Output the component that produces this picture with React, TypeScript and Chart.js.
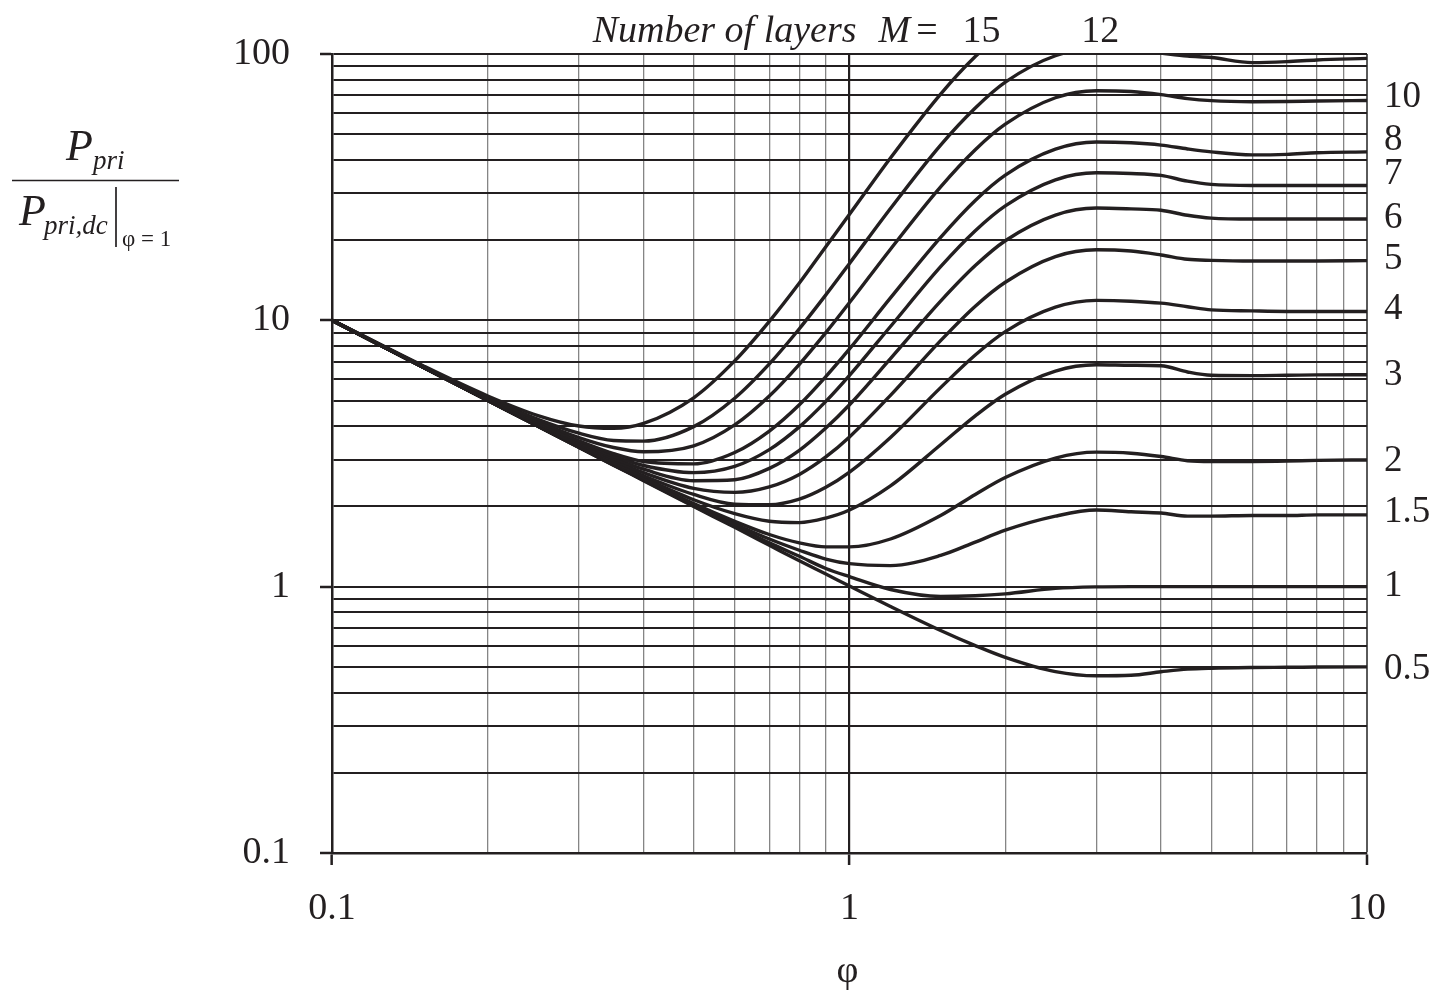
import { useEffect, useRef } from 'react';
import { Chart, registerables } from 'chart.js';

Chart.register(...registerables);

// phi sample points (x axis)
const PHI = [0.1, 0.15, 0.2, 0.25, 0.3, 0.35, 0.4, 0.5, 0.6, 0.7, 0.8, 0.9, 1, 1.2, 1.5, 1.75, 2, 2.5, 3, 3.5, 4, 4.5, 5, 6, 7, 8, 10];

// normalized primary loss, one array per number of layers M
const P_M15 = [10.03, 6.75, 5.2, 4.39, 4.01, 3.93, 4.1, 5.12, 7.04, 9.91, 13.8, 18.9, 25.0, 40.7, 70.7, 97.8, 122];
const P_M12 = [10.01, 6.72, 5.13, 4.25, 3.77, 3.54, 3.52, 3.99, 5.1, 6.86, 9.3, 12.46, 16.36, 26.3, 45.5, 62.7, 78.4, 98.5, 104.7, 104.0, 100.8, 98.2, 97.0, 92.8, 93.6, 95.0, 96.3];
const P_M10 = [10.01, 6.7, 5.09, 4.17, 3.63, 3.33, 3.21, 3.38, 4.05, 5.2, 6.84, 8.99, 11.66, 18.5, 31.7, 43.7, 54.5, 68.5, 72.8, 72.3, 70.4, 68.0, 66.8, 66.2, 66.3, 66.6, 66.9];
const P_M8 = [10.01, 6.69, 5.06, 4.11, 3.53, 3.16, 2.95, 2.89, 3.19, 3.84, 4.82, 6.15, 7.81, 12.14, 20.5, 28.2, 35.1, 43.9, 46.7, 46.4, 45.5, 44.0, 42.9, 41.8, 42.0, 42.6, 42.9];
const P_M7 = [10.0, 6.68, 5.04, 4.09, 3.48, 3.09, 2.85, 2.68, 2.83, 3.27, 3.98, 4.96, 6.21, 9.48, 15.9, 21.7, 26.9, 33.7, 35.8, 35.6, 35.0, 33.3, 32.4, 32.1, 32.1, 32.1, 32.1];
const P_M6 = [10.0, 6.68, 5.03, 4.06, 3.44, 3.03, 2.76, 2.5, 2.52, 2.78, 3.25, 3.94, 4.82, 7.18, 11.8, 16.05, 19.9, 24.85, 26.4, 26.2, 25.9, 24.8, 24.2, 24.0, 24.0, 24.0, 24.0];
const P_M5 = [10.0, 6.67, 5.02, 4.04, 3.41, 2.98, 2.68, 2.34, 2.26, 2.37, 2.64, 3.07, 3.65, 5.23, 8.39, 11.3, 13.9, 17.35, 18.4, 18.2, 17.6, 16.95, 16.8, 16.7, 16.7, 16.7, 16.75];
const P_M4 = [10.0, 6.67, 5.01, 4.03, 3.38, 2.93, 2.61, 2.22, 2.04, 2.03, 2.13, 2.36, 2.69, 3.63, 5.59, 7.41, 9.07, 11.2, 11.88, 11.8, 11.6, 11.25, 10.95, 10.85, 10.8, 10.8, 10.8];
const P_M3 = [10.0, 6.67, 5.01, 4.02, 3.36, 2.9, 2.56, 2.12, 1.88, 1.76, 1.74, 1.81, 1.94, 2.39, 3.41, 4.38, 5.28, 6.45, 6.81, 6.78, 6.75, 6.4, 6.22, 6.2, 6.22, 6.24, 6.25];
const P_M2 = [10.0, 6.67, 5.0, 4.01, 3.35, 2.88, 2.53, 2.05, 1.76, 1.57, 1.46, 1.41, 1.41, 1.51, 1.85, 2.22, 2.57, 3.04, 3.2, 3.17, 3.08, 2.97, 2.95, 2.95, 2.96, 2.98, 2.99];
const P_M1_5 = [10.0, 6.67, 5.0, 4.0, 3.34, 2.87, 2.52, 2.03, 1.72, 1.51, 1.37, 1.27, 1.22, 1.2, 1.31, 1.47, 1.63, 1.84, 1.94, 1.91, 1.89, 1.84, 1.84, 1.85, 1.85, 1.86, 1.86];
const P_M1 = [10.0, 6.67, 5.0, 4.0, 3.34, 2.86, 2.51, 2.01, 1.69, 1.46, 1.3, 1.17, 1.09, 0.976, 0.919, 0.925, 0.94, 0.985, 0.998, 1.0, 1.0, 1.0, 1.0, 1.0, 1.0, 1.0, 1.0];
const P_M0_5 = [10.0, 6.67, 5.0, 4.0, 3.33, 2.86, 2.5, 2.0, 1.67, 1.43, 1.25, 1.115, 1.006, 0.843, 0.685, 0.601, 0.543, 0.48, 0.463, 0.465, 0.479, 0.49, 0.494, 0.497, 0.498, 0.499, 0.5];

const M_NAMES = ['15', '12', '10', '8', '7', '6', '5', '4', '3', '2', '1.5', '1', '0.5'];
const M_VALUES = [P_M15, P_M12, P_M10, P_M8, P_M7, P_M6, P_M5, P_M4, P_M3, P_M2, P_M1_5, P_M1, P_M0_5];

// axis ticks
const X_TICKS = [0.1, 0.2, 0.3, 0.4, 0.5, 0.6, 0.7, 0.8, 0.9, 1, 2, 3, 4, 5, 6, 7, 8, 9, 10];
const X_LABELED = [0.1, 1, 10];
const Y_TICKS = [0.1, 0.2, 0.3, 0.4, 0.5, 0.6, 0.7, 0.8, 0.9, 1, 2, 3, 4, 5, 6, 7, 8, 9, 10, 20, 30, 40, 50, 60, 70, 80, 90, 100];
const Y_LABELED = [0.1, 1, 10, 100];

// curve labels at the right edge
const RIGHT_LABELS = ['10', '8', '7', '6', '5', '4', '3', '2', '1.5', '1', '0.5'];
const RIGHT_LABEL_AT = [68.5, 47.4, 35.3, 24.2, 16.9, 10.96, 6.2, 2.95, 1.9, 1.0, 0.49];

// top caption: the two labels sit above where the curves leave the chart
const TOP_LABELS = ['15', '12'];
const TOP_LABEL_AT = [1.8, 3.05];

const INK = '#231f20';
const SERIF = "'Liberation Serif', 'Times New Roman', serif";

const textPlugin = {
  id: 'figureText',
  afterDraw(chart: any) {
    const { ctx, chartArea } = chart;
    const xs = chart.scales.x;
    const ys = chart.scales.y;
    ctx.save();
    ctx.fillStyle = INK;
    ctx.strokeStyle = INK;

    // right-hand curve labels
    ctx.font = `37px ${SERIF}`;
    ctx.textAlign = 'left';
    ctx.textBaseline = 'middle';
    RIGHT_LABELS.forEach((t, i) => {
      ctx.fillText(t, chartArea.right + 17, ys.getPixelForValue(RIGHT_LABEL_AT[i]));
    });

    // top caption
    ctx.textBaseline = 'alphabetic';
    const capY = 42;
    ctx.textAlign = 'center';
    ctx.font = `38px ${SERIF}`;
    TOP_LABELS.forEach((t, i) => {
      ctx.fillText(t, xs.getPixelForValue(TOP_LABEL_AT[i]), capY);
    });
    const x15 = xs.getPixelForValue(TOP_LABEL_AT[0]) - ctx.measureText(TOP_LABELS[0]).width / 2;
    ctx.textAlign = 'right';
    const eqRight = x15 - 25;
    ctx.fillText('=', eqRight, capY);
    const eqW = ctx.measureText('=').width;
    ctx.font = `italic 38px ${SERIF}`;
    const mRight = eqRight - eqW - 6;
    ctx.fillText('M', mRight, capY);
    const mW = ctx.measureText('M').width;
    ctx.fillText('Number of layers', mRight - mW - 22, capY);

    // y axis title: fraction
    ctx.textAlign = 'left';
    ctx.font = `italic 44px ${SERIF}`;
    ctx.fillText('P', 66, 160);
    ctx.font = `italic 27px ${SERIF}`;
    ctx.fillText('pri', 93, 169);
    ctx.lineWidth = 1.7;
    ctx.beginPath();
    ctx.moveTo(12, 180.5);
    ctx.lineTo(179, 180.5);
    ctx.stroke();
    ctx.font = `italic 44px ${SERIF}`;
    ctx.fillText('P', 19, 225);
    ctx.font = `italic 27px ${SERIF}`;
    ctx.fillText('pri,dc', 44, 234);
    ctx.beginPath();
    ctx.moveTo(116, 187);
    ctx.lineTo(116, 247);
    ctx.stroke();
    ctx.font = `23px ${SERIF}`;
    ctx.fillText('φ = 1', 122, 246);

    // x axis title
    ctx.textAlign = 'center';
    ctx.font = `38px ${SERIF}`;
    ctx.fillText('φ', (chartArea.left + chartArea.right) / 2 - 2, 982);
    ctx.restore();
  },
};

export default function App() {
  const ref = useRef<HTMLCanvasElement | null>(null);

  useEffect(() => {
    if (!ref.current) return;
    const datasets = M_VALUES.map((vals, k) => ({
      label: 'M = ' + M_NAMES[k],
      data: vals.map((v, i) => ({ x: PHI[i], y: v })),
      borderColor: INK,
      borderWidth: 3.4,
      pointRadius: 0,
      fill: false,
      clip: 0,
      cubicInterpolationMode: 'monotone' as const,
    }));

    const chart = new Chart(ref.current, {
      type: 'line',
      data: { datasets },
      plugins: [textPlugin],
      options: {
        responsive: false,
        animation: false,
        devicePixelRatio: 1,
        layout: { padding: { top: 54, right: 68, bottom: 0, left: 0 } },
        plugins: {
          legend: { display: false },
          tooltip: { enabled: false },
          title: { display: false },
        },
        scales: {
          x: {
            type: 'logarithmic',
            min: 0.1,
            max: 10,
            afterBuildTicks: (s: any) => {
              s.ticks = X_TICKS.map((v) => ({ value: v, major: X_LABELED.includes(v) }));
            },
            afterFit: (s: any) => {
              s.height = 140;
            },
            ticks: {
              autoSkip: false,
              maxRotation: 0,
              minRotation: 0,
              padding: 21,
              color: INK,
              font: { family: SERIF, size: 38 },
              callback: (v: any) => (X_LABELED.includes(Number(v)) ? String(v) : ''),
            },
            grid: {
              color: (c: any) => {
                const v = c.tick?.value;
                if (v === 1) return INK;
                if (v === 10) return '#5a5a5a';
                return '#858585';
              },
              lineWidth: (c: any) => {
                const v = c.tick?.value;
                if (v === 1) return 2.2;
                if (v === 10) return 2;
                return 1.3;
              },
              drawTicks: true,
              tickLength: 12,
              tickColor: (c: any) => (X_LABELED.includes(c.tick?.value) ? INK : 'rgba(0,0,0,0)'),
              tickWidth: 2.5,
            },
            border: { color: INK, width: 2.5 },
          },
          y: {
            type: 'logarithmic',
            min: 0.1,
            max: 100,
            afterBuildTicks: (s: any) => {
              s.ticks = Y_TICKS.map((v) => ({ value: v, major: Y_LABELED.includes(v) }));
            },
            afterFit: (s: any) => {
              s.width = 332;
            },
            ticks: {
              autoSkip: false,
              padding: 30,
              color: INK,
              font: { family: SERIF, size: 38 },
              callback: (v: any) => (Y_LABELED.includes(Number(v)) ? String(v) : ''),
            },
            grid: {
              color: INK,
              lineWidth: 2,
              drawTicks: true,
              tickLength: 12,
              tickColor: (c: any) => (Y_LABELED.includes(c.tick?.value) ? INK : 'rgba(0,0,0,0)'),
              tickWidth: 2.5,
            },
            border: { color: INK, width: 2.5 },
          },
        },
      },
    } as any);

    return () => chart.destroy();
  }, []);

  return (
    <div style={{ position: 'absolute', left: 0, top: 0, width: 1435, height: 993, background: '#fff' }}>
      <canvas ref={ref} width={1435} height={993} style={{ display: 'block' }} />
    </div>
  );
}
